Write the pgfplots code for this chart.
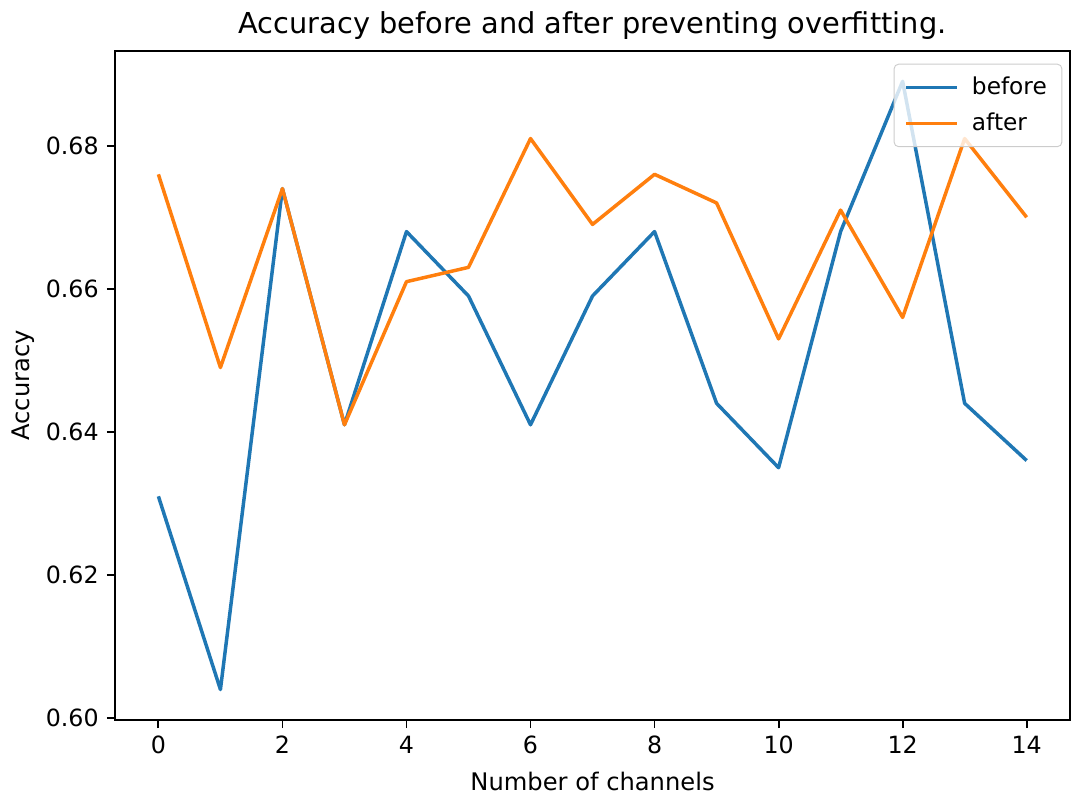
\documentclass[border=0pt]{standalone}
\usepackage{fontspec}
\setmainfont{DejaVu Sans}
\usepackage{pgfplots}
\pgfplotsset{compat=1.18}
\definecolor{c0}{RGB}{31,119,180}
\definecolor{c1}{RGB}{255,127,14}
\begin{document}
\begin{tikzpicture}
\useasboundingbox (-49.45pt,-32.25pt) rectangle (411.1pt,309.6pt);
\begin{axis}[
  scale only axis,
  width=410.7pt, height=287.7pt,
  xmin=-0.7, xmax=14.7, ymin=0.59975, ymax=0.69325,
  axis line style={line width=0.8pt, black},
  tick style={line width=0.8pt, black},
  major tick length=3.5pt,
  tick align=outside,
  tick pos=left,
  xtick={0,2,4,6,8,10,12,14},
  ytick={0.60,0.62,0.64,0.66,0.68},
  scaled y ticks=false,
  yticklabel style={/pgf/number format/.cd, fixed, fixed zerofill, precision=2},
  /pgf/number format/assume math mode=true,
  tick label style={font=\fontsize{10.2}{12}\selectfont, black},
  title={Accuracy before and after preventing overfitting.},
  every axis title/.style={at={(axis description cs:0.5,1)}, anchor=base, yshift=7.3pt, font=\fontsize{12.4}{14}\selectfont, inner sep=0pt},
  xlabel={Number of channels},
  xlabel style={at={(axis description cs:0.5,-0.105)}, anchor=base, font=\fontsize{10.4}{12}\selectfont, inner sep=0pt},
  ylabel={Accuracy},
  ylabel style={at={(axis description cs:-0.0891,0.5)}, anchor=base, font=\fontsize{10.4}{12}\selectfont, inner sep=0pt},
  legend style={at={(axis description cs:1,1)}, xshift=-3.3pt, yshift=-5.5pt, anchor=north east,
    draw=black!20, rounded corners=2pt, fill=white, fill opacity=0.8, text opacity=1,
    font=\fontsize{10}{12}\selectfont, inner xsep=4.5pt, inner ysep=3.5pt, row sep=2.3pt,
    /tikz/every odd column/.append style={column sep=3.5pt}},
  legend cell align=left,
  legend image code/.code={\draw[#1] (0pt,0pt) -- (22pt,0pt);},
  every axis plot/.append style={line width=1.5pt, line join=round},
]
\addplot[c0] coordinates {
(0,0.631) (1,0.604) (2,0.674) (3,0.641) (4,0.668) (5,0.659) (6,0.641) (7,0.659)
(8,0.668) (9,0.644) (10,0.635) (11,0.668) (12,0.689) (13,0.644) (14,0.636)};
\addlegendentry{before}
\addplot[c1] coordinates {
(0,0.676) (1,0.649) (2,0.674) (3,0.641) (4,0.661) (5,0.663) (6,0.681) (7,0.669)
(8,0.676) (9,0.672) (10,0.653) (11,0.671) (12,0.656) (13,0.681) (14,0.670)};
\addlegendentry{after}
\end{axis}
\end{tikzpicture}
\end{document}
